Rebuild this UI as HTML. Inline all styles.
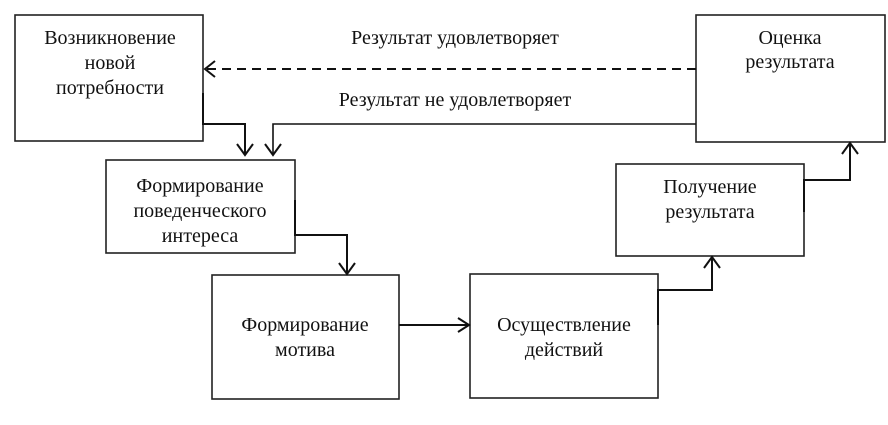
<!DOCTYPE html>
<html><head><meta charset="utf-8"><style>
html,body{margin:0;padding:0;background:#fff;}
svg text{font-family:"Liberation Serif",serif;font-size:20px;fill:#111;text-anchor:middle;}
</style></head><body>
<svg width="888" height="420" viewBox="0 0 888 420" xmlns="http://www.w3.org/2000/svg">
<g fill="none" stroke="#222" stroke-width="1.6">
<rect x="15" y="15" width="188" height="126"/>
<rect x="106" y="160" width="189" height="93"/>
<rect x="212" y="275" width="187" height="124"/>
<rect x="470" y="274" width="188" height="124"/>
<rect x="616" y="164" width="188" height="92"/>
<rect x="696" y="15" width="189" height="127"/>
</g>
<g fill="none" stroke="#111" stroke-width="2">
<path d="M203 93 V124 H245 V154"/>
<path d="M237 144 L245 155 L253 144"/>
<path d="M696 124 H273 V154" stroke-width="1.6"/>
<path d="M265 144 L273 155 L281 144"/>
<path d="M696 69 H207" stroke-dasharray="9 6"/>
<path d="M215 61 L205 69 L215 77"/>
<path d="M295 200 V235 H347 V273"/>
<path d="M339 263 L347 274 L355 263"/>
<path d="M399 325 H468"/>
<path d="M458 318 L469 325 L458 332"/>
<path d="M658 325 V290 H712 V258"/>
<path d="M704 268 L712 257 L720 268"/>
<path d="M804 212 V180 H850 V144"/>
<path d="M842 154 L850 143 L858 154"/>
</g>
<text x="110" y="44">Возникновение</text>
<text x="110" y="69">новой</text>
<text x="110" y="94">потребности</text>
<text x="455" y="44">Результат удовлетворяет</text>
<text x="455" y="106">Результат не удовлетворяет</text>
<text x="790" y="44">Оценка</text>
<text x="790" y="68">результата</text>
<text x="200" y="192">Формирование</text>
<text x="200" y="217">поведенческого</text>
<text x="200" y="242">интереса</text>
<text x="710" y="193">Получение</text>
<text x="710" y="218">результата</text>
<text x="305" y="331">Формирование</text>
<text x="305" y="356">мотива</text>
<text x="564" y="331">Осуществление</text>
<text x="564" y="356">действий</text>
</svg>
</body></html>
